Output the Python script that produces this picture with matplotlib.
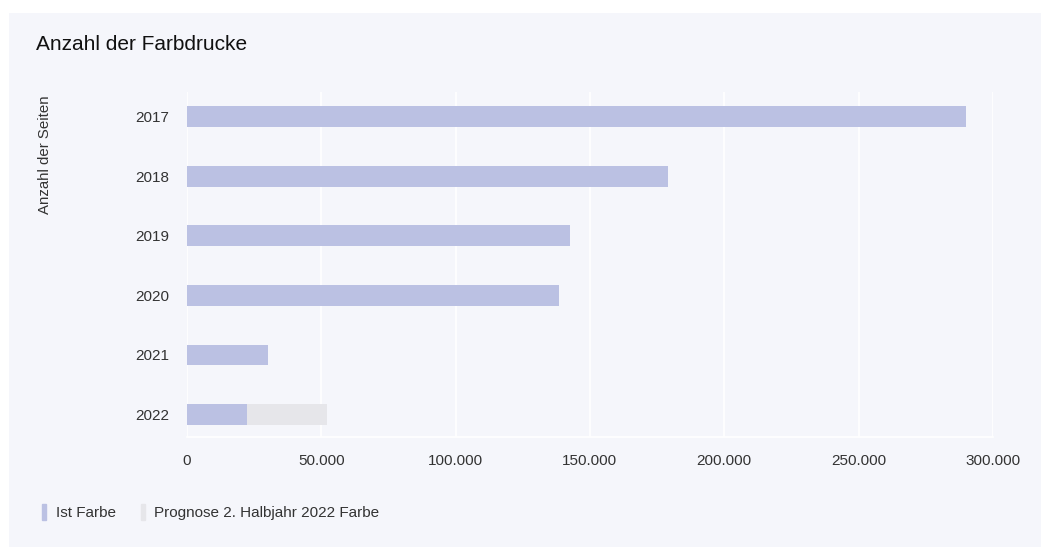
import matplotlib.pyplot as plt
from matplotlib.patches import Patch, Rectangle
from matplotlib.ticker import FuncFormatter

plt.rcParams['font.family'] = ['Liberation Sans', 'DejaVu Sans']

years = ["2017", "2018", "2019", "2020", "2021", "2022"]
ist_farbe = [290000, 179100, 142600, 138500, 30200, 22300]
prognose = [0, 0, 0, 0, 0, 29800]
xticks = [0, 50000, 100000, 150000, 200000, 250000, 300000]

bar_col = "#bbc1e3"
prog_col = "#e6e6ea"
panel_col = "#f5f6fb"
text_col = "#333333"

fig = plt.figure(figsize=(10.5, 5.47), dpi=100)
fig.patch.set_facecolor("white")
fig.patches.append(Rectangle((9 / 1050, 0), 1032 / 1050, 534 / 547, transform=fig.transFigure,
                             facecolor=panel_col, edgecolor="none", zorder=-10))

ax = fig.add_axes([0.178, 0.201, 0.7676, 0.631])
ax.set_facecolor(panel_col)
pos = range(len(years))
ax.barh(pos, ist_farbe, height=0.35, color=bar_col, zorder=3)
ax.barh(pos, prognose, left=ist_farbe, height=0.35, color=prog_col, zorder=3)

ax.set_xlim(0, 300000)
ax.set_ylim(5.38, -0.42)
ax.set_yticks(list(pos))
ax.set_yticklabels(years)
ax.set_xticks(xticks)
ax.xaxis.set_major_formatter(FuncFormatter(lambda v, p: f"{int(v):,}".replace(",", ".")))
ax.tick_params(length=0, labelsize=11, colors=text_col, pad=12)
ax.tick_params(axis="y", pad=13)
ax.grid(axis="x", color="white", linewidth=1.2, zorder=0)
for s in ["top", "right", "left"]:
    ax.spines[s].set_visible(False)
ax.spines["bottom"].set_color("white")
ax.spines["bottom"].set_linewidth(1.2)

fig.text(36 / 1050, 1 - 45 / 547, "Anzahl der Farbdrucke", fontsize=15, color="#111111", va="center")
fig.text(45 / 1050, 1 - 95 / 547, "Anzahl der Seiten", fontsize=10.8, color=text_col,
         rotation=90, ha="center", va="top")

handles = [Patch(color=bar_col, label="Ist Farbe"),
           Patch(color=prog_col, label="Prognose 2. Halbjahr 2022 Farbe")]
fig.legend(handles=handles, loc="center left", bbox_to_anchor=(28 / 1050, 1 - 512 / 547),
           ncol=2, frameon=False, handlelength=0.3, handleheight=1.3, handletextpad=0.6,
           columnspacing=1.65, fontsize=11, labelcolor=text_col)

fig.savefig("out.png", dpi=100, facecolor=fig.get_facecolor())
